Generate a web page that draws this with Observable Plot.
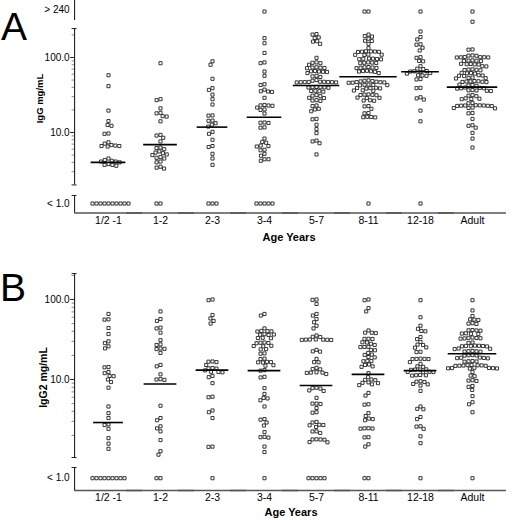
<!DOCTYPE html>
<html><head><meta charset="utf-8">
<script src="https://cdn.jsdelivr.net/npm/d3@7"></script>
<script src="https://cdn.jsdelivr.net/npm/@observablehq/plot@0.6"></script>
<style>
html,body{margin:0;padding:0;background:#fff;}
#fig{position:relative;width:513px;height:520px;font-family:"Liberation Sans",Arial,sans-serif;color:#000;overflow:hidden;}
.panel{position:absolute;left:0;}
.panel svg{display:block;}
.letter{position:absolute;font-size:39px;line-height:39px;}
.xtitle{position:absolute;font-size:11px;font-weight:bold;line-height:11px;transform:translateX(-50%);white-space:nowrap;}
</style></head><body>
<div id="fig">
  <div class="panel" id="pa" style="top:0"></div>
  <div class="panel" id="pb" style="top:260px"></div>
  <div class="letter" style="left:1px;top:7px">A</div>
  <div class="letter" style="left:0px;top:268px">B</div>
  <div class="xtitle" style="left:289px;top:232px">Age Years</div>
  <div class="xtitle" style="left:291px;top:507px">Age Years</div>
</div>
<script>
// ---------- categories ----------
const categories = ["1/2 -1", "1-2", "2-3", "3-4", "5-7", "8-11", "12-18", "Adult"];

// ---------- Panel A: IgG mg/mL (values inside the main axis range) ----------
const iggHalfTo1 = [58, 41.5, 19.6, 14.2, 12.6, 12.3, 9.7, 9.6, 7.4, 7.1, 6.8, 6.7, 6.6, 6.6, 6.5, 4.5, 4.3, 4.2, 4.1, 4.1, 4.0, 3.8, 3.7, 3.7, 3.6];
const igg1to2 = [84, 27.8, 27, 21, 18.3, 18.0, 16.5, 16.3, 14.1, 9.3, 9.1, 8.5, 7.6, 6.3, 6.2, 6.0, 5.6, 5.4, 5.3, 5.1, 5.0, 4.7, 4.6, 4.5, 4.1, 4.0, 3.5, 3.4, 3.3];
const igg2to3 = [89, 80, 52, 39, 37, 32, 27.8, 23.6, 16.9, 16.8, 14.4, 14.3, 13.3, 12.7, 12.0, 10.2, 9.6, 8.0, 6.6, 6.4, 5.2, 4.5, 3.7];
const igg3to4 = [181, 155, 115, 86, 84, 65, 57, 44, 43, 37.3, 35.5, 35.2, 34.8, 29, 23.3, 23, 22.9, 22.7, 21.5, 20.3, 20, 17.9, 13.6, 13.5, 13.4, 11.7, 11.6, 8.3, 7.5, 7.3, 6.7, 6.6, 6.5, 5.9, 5.8, 5.2, 4.9, 4.4, 4.4, 4.2];
const igg5to7 = [205, 202, 185, 182, 165, 163, 152, 99, 86, 85, 84, 80, 74, 73.5, 73, 72.5, 72, 66, 65.5, 65, 64.5, 64, 62, 57, 56, 55, 50, 49, 47.5, 47.4, 47.2, 47.1, 47, 46.9, 46.8, 46.6, 46.5, 40.5, 40.2, 40.1, 40, 39.8, 39.5, 36, 35.8, 35.5, 35, 31.5, 31, 30.5, 29, 28.8, 27, 26.7, 26.4, 22.9, 22.5, 20.7, 20.3, 19.2, 15.2, 15, 12.7, 11.1, 9.8, 7.8, 7.6, 7.2, 5.1];
const igg8to11 = [202, 193, 190, 178, 167, 166, 152, 133, 121, 120.5, 120, 119.5, 119, 118.5, 109.5, 109, 108.5, 108, 97, 96.5, 96, 95.5, 95, 94.5, 86, 85.5, 85, 84.5, 84, 74.5, 74, 73.5, 73, 72.5, 72, 66.5, 66, 65.5, 65, 64.5, 62, 49.5, 49, 48.5, 48, 47.5, 47, 46.8, 46.5, 46.2, 46, 43.5, 43.2, 43, 42.8, 42.5, 39.5, 39.2, 39, 38.8, 38.5, 36.5, 36.3, 36, 32.2, 32, 31.8, 31.6, 31.4, 29.2, 29, 28.8, 26.9, 26.7, 26.5, 22.5, 22.3, 20.7, 18.2, 18, 16.2, 16.1, 16, 15.9];
const igg12to18 = [222, 187, 174, 150, 148, 135, 124, 101, 99, 90, 89, 76.5, 71, 70, 66, 65.5, 65, 64, 62, 61, 58, 57.5, 57, 51.5, 51, 39.4, 39, 29.5, 28.5, 27.5, 19.6, 14.1];
const iggAdult = [300, 128, 127, 106.5, 106, 105.5, 101.5, 101, 100.8, 100.5, 100.2, 100, 91.5, 91, 90.5, 90, 89.5, 82.5, 82, 81.5, 81, 80.5, 76.5, 76, 69.5, 69, 68.5, 68, 67.5, 62.5, 62, 61.5, 61, 58, 57.5, 57, 56.5, 54, 53.5, 53, 52.5, 48.5, 48.2, 48, 47.8, 47.5, 47.2, 47, 43.5, 43, 42.5, 42, 39.8, 39.4, 39, 38.8, 38.5, 36.8, 36.5, 36.3, 36, 35.8, 31.5, 31, 30.5, 28.5, 28.2, 28, 27.8, 24.8, 24.5, 23.1, 23, 22.9, 22.9, 22.8, 22.7, 22.6, 22.5, 21.5, 21.3, 21.2, 21, 18.2, 18, 15.2, 12.5, 12.3, 11.6, 9.9, 8.3, 6.3];
const iggAboveCount = [0, 0, 0, 1, 0, 2, 1, 1];   // "> 240"
const iggBelowCount = [10, 2, 3, 5, 0, 1, 1, 0];  // "< 1.0"
const iggMedian = [4.0, 6.9, 11.8, 16, 42.3, 55.5, 64.5, 40.3];

// ---------- Panel B: IgG2 mg/mL ----------
const igg2HalfTo1 = [66, 56.5, 56, 44, 37, 30, 28.5, 26, 24.5, 14.3, 14.2, 12.4, 12.0, 11.1, 11.0, 10.0, 9.3, 7.9, 4.6, 3.8, 3.3, 2.75, 2.7, 2.42, 1.85, 1.58, 1.36];
const igg2_1to2 = [71, 57, 54, 44.5, 43.5, 38.5, 31, 27.5, 27, 24.4, 24.2, 24, 21.5, 15.2, 14.6, 11.6, 10.1, 10, 9.9, 4.7, 3.3, 3.1, 2.6, 2.45, 2.25, 1.75, 1.27, 1.15];
const igg2_2to3 = [100, 98, 64, 58, 54, 50, 16.8, 16.7, 16.5, 15.2, 13.9, 13.8, 13.7, 13.0, 12.5, 12.4, 12.3, 11.1, 10.7, 9.0, 6.1, 6.0, 4.1, 3.9, 3.3, 1.45, 1.44];
const igg2_3to4 = [66, 63, 43.5, 40.5, 40.2, 40, 39.8, 36.8, 36.5, 36.3, 36, 33.2, 33, 32.8, 29, 28.8, 28.6, 28.4, 26.4, 26.2, 26, 24, 23.8, 21.2, 21, 18.2, 18, 16.6, 16.5, 16.4, 16.3, 15.1, 14.9, 13.1, 12.9, 10.8, 10.6, 7.8, 6.6, 5.9, 5.8, 5.5, 4.6, 3.2, 3.15, 2.9, 2.66, 2.2, 1.92, 1.9, 1.88, 1.45, 1.24];
const igg2_5to7 = [100, 99, 88, 66, 63, 57, 52, 47, 43.5, 35.5, 34.2, 34, 31.7, 31.6, 31.5, 31.5, 31.4, 31.3, 31.2, 23.5, 22.5, 22.3, 18.1, 16.5, 16.4, 14, 13.5, 13.4, 12.3, 12.2, 12.2, 12.1, 11.7, 7.9, 7.8, 7.7, 7.3, 7.2, 5.9, 5.0, 5.0, 4.95, 4.4, 3.9, 3.85, 2.95, 2.9, 2.72, 2.7, 2.68, 2.55, 2.25, 2.24, 2.15, 1.79, 1.78, 1.78, 1.77, 1.65, 1.64];
const igg2_8to11 = [100, 98, 78, 71, 41, 38.5, 38.4, 38, 32.3, 32.2, 32.1, 29.2, 29, 28, 27, 25.6, 25.5, 25.4, 23.4, 23.2, 21.5, 20.5, 20.3, 19.1, 18.9, 17.1, 17, 16.9, 15.4, 15.2, 14.6, 14.4, 12, 10.7, 10, 9.9, 9.8, 9.2, 9.1, 9.0, 8.7, 8.5, 6.8, 6.3, 4.9, 4.85, 3.8, 3.5, 3.25, 3.2, 3.1, 2.46, 2.45, 2.44, 2.43, 1.9, 1.89, 1.55, 1.45];
const igg2_12to18 = [98, 60, 47, 43, 40.5, 40, 34, 32, 29.5, 27.3, 27, 25.2, 25, 22.2, 22, 18.2, 18.1, 18.1, 18, 18, 16.5, 15.7, 14.6, 14.4, 13.4, 13.3, 13.3, 13.2, 12.5, 12.4, 12.4, 12.3, 11.4, 11.3, 11.3, 11.2, 9.5, 9.4, 9.3, 8.8, 8.7, 8.4, 7.2, 4.6, 4.3, 4.25, 3.4, 3.2, 2.6, 2.58, 2.42, 1.95, 1.6];
const igg2Adult = [98, 73, 62, 56.5, 56, 55.5, 50.5, 50, 49.5, 41.5, 41.2, 41, 40.8, 37.8, 37.5, 37.3, 37, 33.5, 33.2, 33, 32.8, 32.6, 32.4, 29, 28.7, 26.5, 26.4, 26.3, 26.2, 26.1, 26, 25.9, 24.4, 24.2, 24, 22.7, 22.6, 22.5, 22.4, 22.3, 20.2, 20.1, 20, 19.9, 18.8, 18.7, 18.6, 18.5, 18.4, 17, 16.9, 16.8, 16.7, 15.2, 15.1, 15.05, 15, 14.95, 14.9, 14.85, 14.8, 14, 13.95, 13.9, 13.85, 13.8, 13.75, 13.7, 12.4, 11.2, 11, 9.8, 9.7, 9.6, 8.3, 8.1, 7.4, 6.2, 5.2, 4.9, 3.9];
const igg2AboveCount = [0, 0, 0, 0, 0, 0, 0, 0];
const igg2BelowCount = [9, 2, 1, 1, 5, 2, 1, 1];
const igg2Median = [2.9, 8.8, 13.1, 12.9, 8.4, 11.6, 12.9, 21];

// ---------- axis tick labels ----------
const iggTickValues = [100, 10];
const iggTickLabels = ["100.0", "10.0"];
const iggMinorTicks = [3, 4, 5, 6, 7, 8, 9, 20, 30, 40, 50, 60, 70, 80, 90, 200];
const igg2TickValues = [100, 10];
const igg2TickLabels = ["100.0", "10.0"];
const igg2MinorTicks = [2, 3, 4, 5, 6, 7, 8, 9, 20, 30, 40, 50, 60, 70, 80, 90, 200];
const belowLabel = "< 1.0";
const aboveLabel = "> 240";

// ---------- layout / style ----------
const FONT = "'Liberation Sans', Arial, Helvetica, sans-serif";
const BAND = 52.5;      // facet width in px (x scale is in px inside a facet)
const AXIS_X = -8;      // y-axis line offset from the first facet's left edge
const first = () => categories[0];

const layoutA = {
  el: "#pa", height: 258, marginBottom: 45.5,
  yDomain: [0.845, 508.8],
  belowPos: 1.13, abovePos: 410, aboveLabelPos: 430,
  segments: [[311, 575], [2.0, 243], [0.845, 1.45]],
  caps: [243, 2.0, 1.45],
  title: "IgG mg/mL", titleX: -43, titleY: 28.4, titleSize: 9.5,
  medianWidth: [35, 34, 31, 35, 47, 58, 38, 51]
};
const layoutB = {
  el: "#pb", height: 260, marginBottom: 30,
  yDomain: [0.41, 273.8],
  belowPos: 0.584, abovePos: null, aboveLabelPos: null,
  segments: [[1.06, 211], [0.41, 0.794]],
  caps: [211, 1.06, 0.794],
  title: "IgG2 mg/mL", titleX: -39, titleY: 10.6, titleSize: 10.5,
  medianWidth: [30, 33, 33, 33, 33, 33, 33, 49]
};

function drawPanel(layout, values, above, below, medians, tickValues, tickLabels, minorTicks) {
  const rows = [];
  categories.forEach((c, i) => {
    values[i].forEach(v => rows.push({cat: c, v}));
    for (let k = 0; k < above[i]; k++) rows.push({cat: c, v: layout.abovePos});
    for (let k = 0; k < below[i]; k++) rows.push({cat: c, v: layout.belowPos});
  });
  const meds = categories.map((c, i) => ({cat: c, m: medians[i], w: layout.medianWidth[i]}));
  const labels = tickValues.map((v, i) => ({v, t: tickLabels[i]}));
  labels.push({v: layout.belowPos, t: belowLabel});
  if (layout.aboveLabelPos) labels.unshift({v: layout.aboveLabelPos, t: aboveLabel});

  const chart = Plot.plot({
    width: 513, height: layout.height,
    marginLeft: 80, marginRight: 13, marginTop: 4, marginBottom: layout.marginBottom,
    style: {fontFamily: FONT, fontSize: "10.5px", color: "#000", background: "transparent"},
    fx: {domain: categories, padding: 0, label: null},
    x: {domain: [0, BAND], axis: null},
    y: {type: "log", domain: layout.yDomain, axis: null},
    marks: [
      // x-axis baseline
      Plot.ruleY([layout.yDomain[0]], {x1: AXIS_X, x2: BAND - AXIS_X, stroke: "#555", strokeWidth: 1.4}),
      // broken y-axis
      Plot.ruleX(layout.segments, {fx: first, x: AXIS_X, y1: d => d[0], y2: d => d[1], stroke: "#222", strokeWidth: 1.1}),
      Plot.ruleY(layout.caps, {fx: first, y: d => d, x1: AXIS_X - 2.5, x2: AXIS_X + 2.5, stroke: "#222", strokeWidth: 1}),
      Plot.ruleY(tickValues, {fx: first, y: d => d, x1: AXIS_X - 4, x2: AXIS_X, stroke: "#222", strokeWidth: 1}),
      Plot.ruleY(minorTicks, {fx: first, y: d => d, x1: AXIS_X - 2.5, x2: AXIS_X, stroke: "#555", strokeWidth: 0.7}),
      Plot.text(labels, {fx: first, x: AXIS_X - 5, y: "v", text: "t", textAnchor: "end", fontSize: 10, fill: "#000"}),
      Plot.text([layout.title], {fx: first, x: layout.titleX, y: () => layout.titleY, text: d => d, rotate: -90,
        fontWeight: "bold", fontSize: layout.titleSize, fill: "#000"}),
      // data points
      Plot.dot(rows, Plot.dodgeX({anchor: "middle", padding: 0, r: 2},
        {fx: "cat", y: "v", symbol: "square", r: 1.75, fill: "white", stroke: "#222", strokeWidth: 0.9})),
      // medians
      Plot.ruleY(meds, {fx: "cat", y: "m", x1: d => BAND / 2 - d.w / 2, x2: d => BAND / 2 + d.w / 2, stroke: "#000", strokeWidth: 1.6}),
      // category labels
      Plot.axisFx({anchor: "bottom", tickSize: 0, tickPadding: 3.5, fontSize: 10.5, label: null})
    ]
  });
  document.querySelector(layout.el).append(chart);
}

drawPanel(layoutA,
  [iggHalfTo1, igg1to2, igg2to3, igg3to4, igg5to7, igg8to11, igg12to18, iggAdult],
  iggAboveCount, iggBelowCount, iggMedian, iggTickValues, iggTickLabels, iggMinorTicks);
drawPanel(layoutB,
  [igg2HalfTo1, igg2_1to2, igg2_2to3, igg2_3to4, igg2_5to7, igg2_8to11, igg2_12to18, igg2Adult],
  igg2AboveCount, igg2BelowCount, igg2Median, igg2TickValues, igg2TickLabels, igg2MinorTicks);
</script>
</body></html>
